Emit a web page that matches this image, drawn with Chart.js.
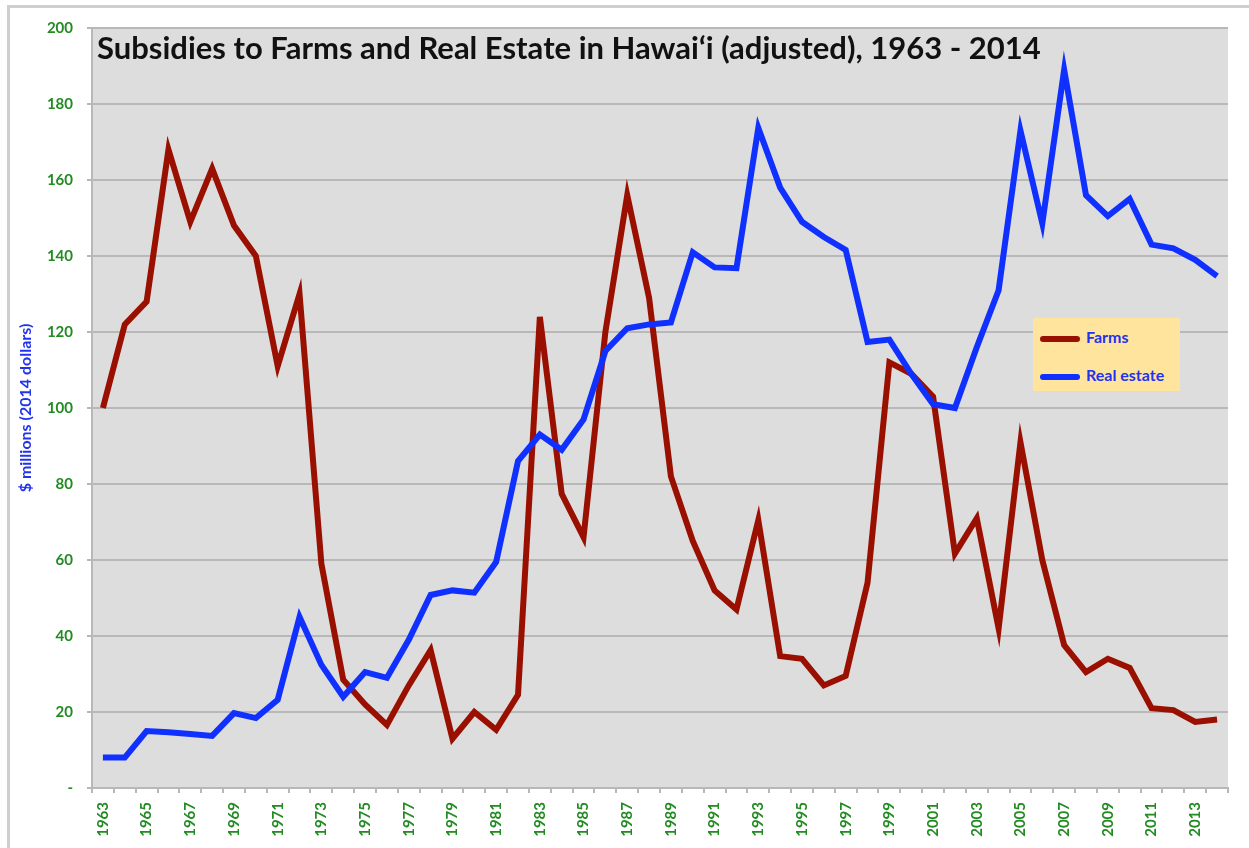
<!DOCTYPE html>
<html>
<head>
<meta charset="utf-8">
<script src="https://cdn.jsdelivr.net/npm/chart.js@4"></script>
<style>
  body { margin: 0; background: #fff; }
  #wrap { position: relative; width: 1249px; height: 848px; overflow: hidden; }
  #frame { position: absolute; left: 7px; top: 5px; width: 1300px; height: 900px;
    border-left: 3px solid #cfcfcf; border-top: 3px solid #cfcfcf; }
  canvas { position: absolute; left: 0; top: 0; }
  #legend { position: absolute; left: 1033px; top: 318px; width: 147px; height: 73px;
    background: #ffe49e; font: bold 16px Lato, sans-serif; color: #2233ee; }
  .item { position: absolute; left: 7px; height: 20px; line-height: 20px; }
  .item span { display: inline-block; width: 40px; height: 6px; border-radius: 3px;
    vertical-align: middle; margin-right: 6px; }
</style>
</head>
<body>
<div id="wrap">
  <div id="frame"></div>
  <canvas id="chart" width="1249" height="848"></canvas>
  <div id="legend">
    <div class="item" style="top:9px"><span style="background:#9a1000"></span>Farms</div>
    <div class="item" style="top:47px"><span style="background:#1030ff"></span>Real estate</div>
  </div>
</div>
<script>
const years = []
for (let y = 1963; y <= 2014; y++) years.push(String(y))

const farms = [100, 122, 128, 168, 149, 163, 148, 140, 111, 130,
  59, 28.5, 22, 16.6, 27, 36.3, 13, 20, 15.3, 24.5,
  124, 77.4, 66, 120, 156, 129, 82, 65, 52, 47,
  70.5, 34.7, 34, 27, 29.5, 54, 112, 109, 103, 61.7,
  71, 42, 91, 60, 37.6, 30.5, 34, 31.6, 21, 20.5,
  17.4, 18]

const realEstate = [8, 8, 15, 14.7, 14.2, 13.7, 19.7, 18.4, 23.2, 45,
  32.4, 24, 30.5, 29, 39, 50.8, 52, 51.4, 59.5, 86,
  93, 89, 97, 115, 121, 122, 122.5, 141, 137, 136.8,
  173.7, 158, 149, 145, 141.6, 117.4, 118, 109, 101, 100,
  116, 131, 173, 148.6, 189, 156, 150.5, 155, 143, 142,
  139, 134.7]

const green = '#228b22'

// grey plot background + title inside the plot area
const plotBg = {
  id: 'plotBg',
  beforeDraw (chart) {
    const { ctx, chartArea: a } = chart
    ctx.save()
    ctx.fillStyle = '#dddddd'
    ctx.fillRect(a.left, a.top, a.right - a.left, a.bottom - a.top)
    ctx.restore()
  },
  afterDatasetsDraw (chart) {
    const { ctx, chartArea: a } = chart
    ctx.save()
    ctx.fillStyle = '#111'
    ctx.font = 'bold 31px Lato, sans-serif'
    ctx.textBaseline = 'alphabetic'
    ctx.fillText('Subsidies to Farms and Real Estate in Hawai\u2018i (adjusted), 1963 - 2014', a.left + 5, a.top + 31)
    ctx.restore()
  }
}

new Chart(document.getElementById('chart'), {
  type: 'line',
  data: {
    labels: years,
    datasets: [
      {
        label: 'Farms',
        data: farms,
        borderColor: '#9a1000',
        borderWidth: 6,
        pointRadius: 0,
        tension: 0,
        order: 1
      },
      {
        label: 'Real estate',
        data: realEstate,
        borderColor: '#1030ff',
        borderWidth: 6,
        pointRadius: 0,
        tension: 0,
        order: 0
      }
    ]
  },
  options: {
    responsive: false,
    animation: false,
    layout: { padding: { left: 16, top: 28, right: 21, bottom: 0 } },
    plugins: {
      legend: { display: false },
      tooltip: { enabled: false }
    },
    scales: {
      x: {
        offset: true,
        afterFit: s => { s.height = 60 },
        grid: { offset: true, drawOnChartArea: false, color: '#b8b8b8', lineWidth: 2, tickLength: 5 },
        border: { color: '#b8b8b8', width: 2 },
        ticks: {
          autoSkip: false,
          maxRotation: 90,
          minRotation: 90,
          padding: 9,
          color: green,
          font: { family: 'Lato', size: 15, weight: 'bold' },
          callback: (v, i) => (i % 2 === 0 ? years[i] : '')
        }
      },
      y: {
        min: 0,
        max: 200,
        afterFit: s => { s.width = 76 },
        grid: { color: '#b8b8b8', lineWidth: 2, tickLength: 5 },
        border: { color: '#b8b8b8', width: 2 },
        ticks: {
          stepSize: 20,
          padding: 14,
          color: green,
          font: { family: 'Lato', size: 15, weight: 'bold' },
          callback: v => (v === 0 ? '-' : v)
        },
        title: {
          display: true,
          text: '$ millions (2014 dollars)',
          color: '#2233ee',
          padding: 0,
          font: { family: 'Lato', size: 16, weight: 'bold' }
        }
      }
    }
  },
  plugins: [plotBg]
})
</script>
</body>
</html>
